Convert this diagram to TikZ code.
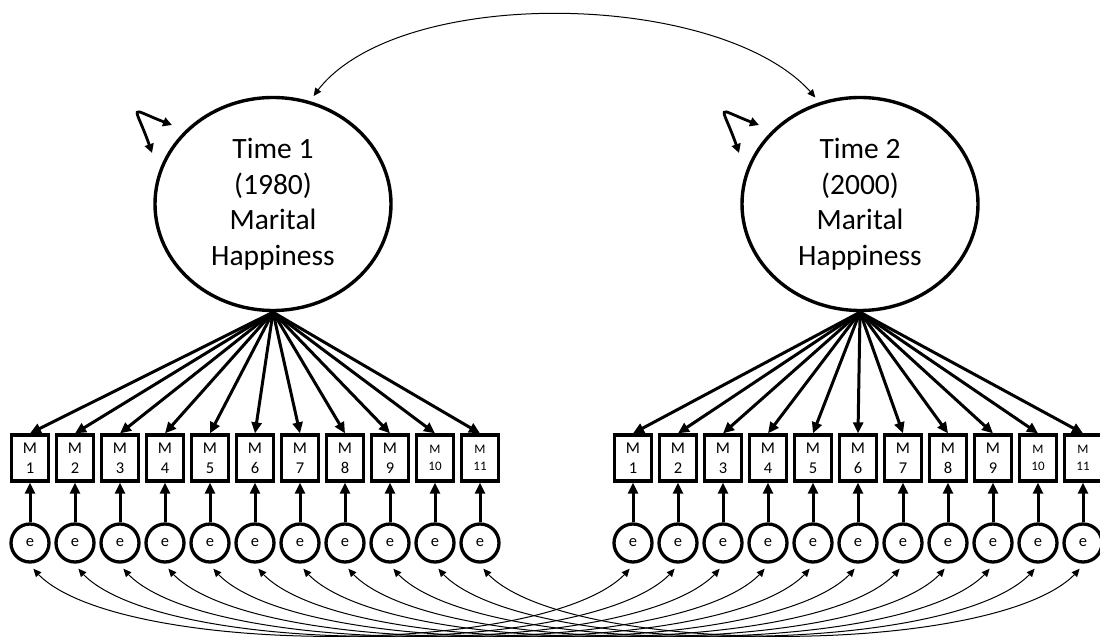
\documentclass[tikz,border=0pt]{standalone}
\usepackage{fontspec}
\setmainfont{Carlito}
\usetikzlibrary{arrows.meta,bending,shapes.geometric}

\begin{document}
\begin{tikzpicture}[
	x=1pt, y=1pt,
	latent/.style={ellipse, draw, line width=3.4pt, minimum width=236pt,
		minimum height=213pt, inner sep=0pt, align=center,
		font=\fontsize{29.5}{35.5}\selectfont},
	indicator/.style={rectangle, draw, line width=3.3pt, minimum width=37pt,
		minimum height=46pt, inner sep=0pt, align=center,
		font=\fontsize{16.5}{19.6}\selectfont},
	small indicator/.style={indicator, font=\fontsize{13}{17}\selectfont},
	error/.style={circle, draw, line width=3.3pt, minimum size=38pt,
		inner sep=0pt, font=\fontsize{16.5}{18}\selectfont},
	loading/.style={line width=3pt, -{Triangle[length=11pt,width=10pt]}},
	variance/.style={line width=2.8pt, {Triangle[length=9pt,width=9pt,bend]}-{Triangle[length=9pt,width=9pt,bend]}},
	covariance/.style={line width=1pt, {Triangle[length=8pt,width=7pt]}-{Triangle[length=8pt,width=7pt]},
		shorten <=6pt, shorten >=6pt}
	]
	\useasboundingbox (0,0) rectangle (1100,640);
	% factors
	\node[latent] (time1) at (273,436) {Time 1\\(1980)\\Marital\\Happiness};
	\node[latent] (time2) at (860,436) {Time 2\\(2000)\\Marital\\Happiness};
	% ends of the variance loops
	\coordinate (v1a) at ([shift={(-121,51)}]time1.center);
	\coordinate (v1b) at ([shift={(-101,79)}]time1.center);
	\coordinate (v2a) at ([shift={(-121,51)}]time2.center);
	\coordinate (v2b) at ([shift={(-101,79)}]time2.center);
	% variances and factor covariance
	\draw[variance] (v1a) .. controls +(108:56) and +(160:52) .. (v1b);
	\draw[variance] (v2a) .. controls +(108:56) and +(160:52) .. (v2b);
	\draw[covariance] (time1.70) .. controls +(60:140) and +(125:140) .. (time2.112);
	% items and residuals
	\foreach \i [evaluate=\i as \xa using 30+45*(\i-1),
	             evaluate=\i as \xb using 633+45*(\i-1)] in {1,...,11} {
		\ifnum\i<10 \def\itembox{indicator}\else\def\itembox{small indicator}\fi
		\node[\itembox] (mA\i) at (\xa,182) {M\\\i};
		\node[\itembox] (mB\i) at (\xb,182) {M\\\i};
		\node[error] (eA\i) at (\xa,97) {e};
		\node[error] (eB\i) at (\xb,97) {e};
		\draw[loading] (time1.south) -- (mA\i.north);
		\draw[loading] (time2.south) -- (mB\i.north);
		\draw[loading] (eA\i.north) -- (mA\i.south);
		\draw[loading] (eB\i.north) -- (mB\i.south);
		\draw[covariance] (eA\i.south) .. controls +(-60:112) and +(-120:112) .. (eB\i.south);
	}
\end{tikzpicture}
\end{document}
